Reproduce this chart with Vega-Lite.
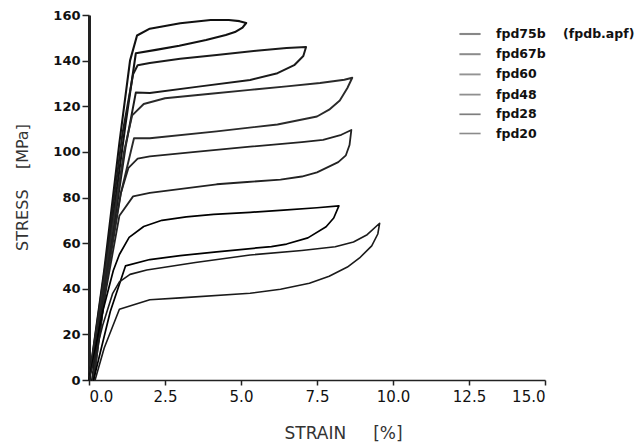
{
  "$schema": "https://vega.github.io/schema/vega-lite/v6.json",
  "width": 456,
  "height": 365,
  "autosize": {"type": "none"},
  "padding": {"left": 89, "top": 15, "right": 95, "bottom": 64},
  "background": "white",
  "config": {
    "view": {"stroke": null},
    "axis": {"grid": false, "domainColor": "#222", "tickColor": "#222", "labelColor": "#111", "titleColor": "#333"}
  },
  "data": {
    "values": [
      {"s": "fpd75b", "i": 0, "x": 0, "y": 0},
      {"s": "fpd75b", "i": 1, "x": 0.5, "y": 48},
      {"s": "fpd75b", "i": 2, "x": 1.0, "y": 104},
      {"s": "fpd75b", "i": 3, "x": 1.35, "y": 140},
      {"s": "fpd75b", "i": 4, "x": 1.58, "y": 151},
      {"s": "fpd75b", "i": 5, "x": 2.0, "y": 154},
      {"s": "fpd75b", "i": 6, "x": 3.0, "y": 156.4},
      {"s": "fpd75b", "i": 7, "x": 4.0, "y": 157.8},
      {"s": "fpd75b", "i": 8, "x": 4.6, "y": 157.8},
      {"s": "fpd75b", "i": 9, "x": 4.95, "y": 157.3},
      {"s": "fpd75b", "i": 10, "x": 5.17, "y": 156.5},
      {"s": "fpd75b", "i": 11, "x": 5.05, "y": 154.5},
      {"s": "fpd75b", "i": 12, "x": 4.8, "y": 152.5},
      {"s": "fpd75b", "i": 13, "x": 4.5, "y": 151.2},
      {"s": "fpd75b", "i": 14, "x": 3.85, "y": 149},
      {"s": "fpd75b", "i": 15, "x": 2.97, "y": 146.5},
      {"s": "fpd75b", "i": 16, "x": 2.2, "y": 144.7},
      {"s": "fpd75b", "i": 17, "x": 1.54, "y": 143.2},
      {"s": "fpd75b", "i": 18, "x": 1.2, "y": 112},
      {"s": "fpd75b", "i": 19, "x": 0.7, "y": 62},
      {"s": "fpd75b", "i": 20, "x": 0.25, "y": 15},
      {"s": "fpd75b", "i": 21, "x": 0.1, "y": 0},

      {"s": "fpd67b", "i": 0, "x": 0, "y": 0},
      {"s": "fpd67b", "i": 1, "x": 0.6, "y": 56},
      {"s": "fpd67b", "i": 2, "x": 1.1, "y": 108},
      {"s": "fpd67b", "i": 3, "x": 1.45, "y": 134},
      {"s": "fpd67b", "i": 4, "x": 1.6, "y": 138},
      {"s": "fpd67b", "i": 5, "x": 2.0, "y": 139},
      {"s": "fpd67b", "i": 6, "x": 3.0, "y": 140.8},
      {"s": "fpd67b", "i": 7, "x": 4.2, "y": 142.5},
      {"s": "fpd67b", "i": 8, "x": 5.5, "y": 144.3},
      {"s": "fpd67b", "i": 9, "x": 6.5, "y": 145.5},
      {"s": "fpd67b", "i": 10, "x": 7.14, "y": 146},
      {"s": "fpd67b", "i": 11, "x": 7.05, "y": 142},
      {"s": "fpd67b", "i": 12, "x": 6.75, "y": 138},
      {"s": "fpd67b", "i": 13, "x": 6.2, "y": 134.5},
      {"s": "fpd67b", "i": 14, "x": 5.3, "y": 131.5},
      {"s": "fpd67b", "i": 15, "x": 3.6, "y": 128.6},
      {"s": "fpd67b", "i": 16, "x": 2.0, "y": 125.8},
      {"s": "fpd67b", "i": 17, "x": 1.54, "y": 126},
      {"s": "fpd67b", "i": 18, "x": 1.2, "y": 102},
      {"s": "fpd67b", "i": 19, "x": 0.65, "y": 52},
      {"s": "fpd67b", "i": 20, "x": 0.15, "y": 0},

      {"s": "fpd60", "i": 0, "x": 0, "y": 0},
      {"s": "fpd60", "i": 1, "x": 0.6, "y": 52},
      {"s": "fpd60", "i": 2, "x": 1.15, "y": 100},
      {"s": "fpd60", "i": 3, "x": 1.42, "y": 116},
      {"s": "fpd60", "i": 4, "x": 1.8, "y": 121},
      {"s": "fpd60", "i": 5, "x": 2.5, "y": 123.5},
      {"s": "fpd60", "i": 6, "x": 4.0, "y": 125.5},
      {"s": "fpd60", "i": 7, "x": 5.3, "y": 127.2},
      {"s": "fpd60", "i": 8, "x": 6.5, "y": 128.7},
      {"s": "fpd60", "i": 9, "x": 7.6, "y": 130.2},
      {"s": "fpd60", "i": 10, "x": 8.4, "y": 131.6},
      {"s": "fpd60", "i": 11, "x": 8.66, "y": 132.5},
      {"s": "fpd60", "i": 12, "x": 8.5, "y": 128},
      {"s": "fpd60", "i": 13, "x": 8.25, "y": 122.5},
      {"s": "fpd60", "i": 14, "x": 7.9, "y": 118.5},
      {"s": "fpd60", "i": 15, "x": 7.5, "y": 115.5},
      {"s": "fpd60", "i": 16, "x": 6.2, "y": 112},
      {"s": "fpd60", "i": 17, "x": 4.2, "y": 109},
      {"s": "fpd60", "i": 18, "x": 2.0, "y": 106},
      {"s": "fpd60", "i": 19, "x": 1.48, "y": 106},
      {"s": "fpd60", "i": 20, "x": 1.05, "y": 82},
      {"s": "fpd60", "i": 21, "x": 0.6, "y": 45},
      {"s": "fpd60", "i": 22, "x": 0.15, "y": 0},

      {"s": "fpd48", "i": 0, "x": 0, "y": 0},
      {"s": "fpd48", "i": 1, "x": 0.55, "y": 45},
      {"s": "fpd48", "i": 2, "x": 1.05, "y": 82},
      {"s": "fpd48", "i": 3, "x": 1.3, "y": 93},
      {"s": "fpd48", "i": 4, "x": 1.6, "y": 97},
      {"s": "fpd48", "i": 5, "x": 2.0, "y": 98},
      {"s": "fpd48", "i": 6, "x": 3.5, "y": 100},
      {"s": "fpd48", "i": 7, "x": 5.3, "y": 102.3},
      {"s": "fpd48", "i": 8, "x": 7.0, "y": 104.3},
      {"s": "fpd48", "i": 9, "x": 7.7, "y": 105.3},
      {"s": "fpd48", "i": 10, "x": 8.3, "y": 107.5},
      {"s": "fpd48", "i": 11, "x": 8.63, "y": 109.6},
      {"s": "fpd48", "i": 12, "x": 8.57, "y": 103},
      {"s": "fpd48", "i": 13, "x": 8.45, "y": 98.5},
      {"s": "fpd48", "i": 14, "x": 8.2, "y": 95.5},
      {"s": "fpd48", "i": 15, "x": 7.5, "y": 91},
      {"s": "fpd48", "i": 16, "x": 7.0, "y": 89.2},
      {"s": "fpd48", "i": 17, "x": 6.3, "y": 87.8},
      {"s": "fpd48", "i": 18, "x": 5.2, "y": 86.8},
      {"s": "fpd48", "i": 19, "x": 4.2, "y": 85.8},
      {"s": "fpd48", "i": 20, "x": 2.0, "y": 82},
      {"s": "fpd48", "i": 21, "x": 1.45, "y": 80.5},
      {"s": "fpd48", "i": 22, "x": 1.0, "y": 72},
      {"s": "fpd48", "i": 23, "x": 0.5, "y": 35},
      {"s": "fpd48", "i": 24, "x": 0.12, "y": 0},

      {"s": "fpd28", "i": 0, "x": 0, "y": 0},
      {"s": "fpd28", "i": 1, "x": 0.45, "y": 30},
      {"s": "fpd28", "i": 2, "x": 0.8, "y": 48},
      {"s": "fpd28", "i": 3, "x": 1.0, "y": 55},
      {"s": "fpd28", "i": 4, "x": 1.32, "y": 62.5},
      {"s": "fpd28", "i": 5, "x": 1.8, "y": 67.3},
      {"s": "fpd28", "i": 6, "x": 2.4, "y": 70},
      {"s": "fpd28", "i": 7, "x": 3.2, "y": 71.5},
      {"s": "fpd28", "i": 8, "x": 4.1, "y": 72.6},
      {"s": "fpd28", "i": 9, "x": 5.3, "y": 73.5},
      {"s": "fpd28", "i": 10, "x": 6.4, "y": 74.5},
      {"s": "fpd28", "i": 11, "x": 7.5, "y": 75.5},
      {"s": "fpd28", "i": 12, "x": 8.22, "y": 76.3},
      {"s": "fpd28", "i": 13, "x": 8.05, "y": 71},
      {"s": "fpd28", "i": 14, "x": 7.8, "y": 67.2},
      {"s": "fpd28", "i": 15, "x": 7.2, "y": 62.3},
      {"s": "fpd28", "i": 16, "x": 6.5, "y": 59.6},
      {"s": "fpd28", "i": 17, "x": 6.0, "y": 58.5},
      {"s": "fpd28", "i": 18, "x": 4.2, "y": 56.2},
      {"s": "fpd28", "i": 19, "x": 3.0, "y": 54.5},
      {"s": "fpd28", "i": 20, "x": 2.0, "y": 52.8},
      {"s": "fpd28", "i": 21, "x": 1.2, "y": 50},
      {"s": "fpd28", "i": 22, "x": 0.7, "y": 30},
      {"s": "fpd28", "i": 23, "x": 0.15, "y": 0},

      {"s": "fpd20", "i": 0, "x": 0, "y": 0},
      {"s": "fpd20", "i": 1, "x": 0.45, "y": 24},
      {"s": "fpd20", "i": 2, "x": 0.78, "y": 38},
      {"s": "fpd20", "i": 3, "x": 1.0, "y": 43},
      {"s": "fpd20", "i": 4, "x": 1.35, "y": 46.3},
      {"s": "fpd20", "i": 5, "x": 1.9, "y": 48.2},
      {"s": "fpd20", "i": 6, "x": 3.5, "y": 51.5},
      {"s": "fpd20", "i": 7, "x": 5.3, "y": 54.8},
      {"s": "fpd20", "i": 8, "x": 7.0, "y": 56.8},
      {"s": "fpd20", "i": 9, "x": 8.1, "y": 58.4},
      {"s": "fpd20", "i": 10, "x": 8.7, "y": 60.5},
      {"s": "fpd20", "i": 11, "x": 9.15, "y": 63.7},
      {"s": "fpd20", "i": 12, "x": 9.56, "y": 68.7},
      {"s": "fpd20", "i": 13, "x": 9.5, "y": 64},
      {"s": "fpd20", "i": 14, "x": 9.3, "y": 58.8},
      {"s": "fpd20", "i": 15, "x": 8.9, "y": 53.5},
      {"s": "fpd20", "i": 16, "x": 8.5, "y": 49.5},
      {"s": "fpd20", "i": 17, "x": 7.9, "y": 45.5},
      {"s": "fpd20", "i": 18, "x": 7.25, "y": 42.4},
      {"s": "fpd20", "i": 19, "x": 6.3, "y": 39.8},
      {"s": "fpd20", "i": 20, "x": 5.3, "y": 38},
      {"s": "fpd20", "i": 21, "x": 3.0, "y": 36},
      {"s": "fpd20", "i": 22, "x": 2.0, "y": 35.2},
      {"s": "fpd20", "i": 23, "x": 1.0, "y": 31},
      {"s": "fpd20", "i": 24, "x": 0.5, "y": 14},
      {"s": "fpd20", "i": 25, "x": 0.2, "y": 0}
    ]
  },
  "mark": {"type": "line", "strokeCap": "round", "strokeJoin": "round", "clip": false},
  "encoding": {
    "x": {
      "field": "x", "type": "quantitative",
      "scale": {"domain": [0, 15], "nice": false},
      "axis": {
        "values": [0, 2.5, 5, 7.5, 10, 12.5, 15],
        "format": ".1f",
        "title": "STRAIN\u00a0\u00a0\u00a0\u00a0\u00a0[%]",
        "titleFont": "DejaVu Sans", "titleFontSize": 17, "titleFontWeight": "normal",
        "titleX": 254, "titleY": 58, "titleBaseline": "alphabetic", "titleAlign": "center",
        "labelFont": "DejaVu Sans", "labelFontSize": 15, "labelFontWeight": "normal",
        "labelPadding": 4, "tickSize": 5, "tickWidth": 1.5, "domainWidth": 1.5
      }
    },
    "y": {
      "field": "y", "type": "quantitative",
      "scale": {"domain": [0, 160], "nice": false},
      "axis": {
        "values": [0, 20, 40, 60, 80, 100, 120, 140, 160],
        "title": "STRESS\u00a0\u00a0\u00a0\u00a0[MPa]",
        "titleFont": "DejaVu Sans", "titleFontSize": 16, "titleFontWeight": "normal",
        "titleAngle": -90, "titleX": -67, "titleY": 172, "titleAlign": "center", "titleBaseline": "middle",
        "labelFont": "DejaVu Sans", "labelFontSize": 13, "labelFontWeight": "bold",
        "labelPadding": 2, "tickSize": 7, "tickWidth": 1.5, "domainWidth": 3
      }
    },
    "color": {
      "field": "s", "type": "nominal",
      "scale": {
        "domain": ["fpd75b", "fpd67b", "fpd60", "fpd48", "fpd28", "fpd20"],
        "range": ["#111111", "#1a1a1a", "#2a2a2a", "#222222", "#000000", "#1a1a1a"]
      },
      "legend": {
        "title": null,
        "orient": "none",
        "legendX": 369,
        "legendY": 7,
        "padding": 0,
        "symbolType": "stroke",
        "symbolSize": 450,
        "symbolStrokeWidth": 2.5,
        "symbolOpacity": 0.5,
        "labelFont": "DejaVu Sans",
        "labelFontSize": 12.5,
        "labelFontWeight": "bold",
        "labelColor": "#111",
        "labelOffset": 14,
        "labelLimit": 300,
        "rowPadding": 1.2,
        "labelExpr": "datum.label == 'fpd75b' ? 'fpd75b\u00a0\u00a0\u00a0\u00a0(fpdb.apf)' : datum.label"
      }
    },
    "strokeWidth": {
      "field": "s", "type": "nominal",
      "scale": {
        "domain": ["fpd75b", "fpd67b", "fpd60", "fpd48", "fpd28", "fpd20"],
        "range": [2.1, 1.6, 1.3, 1.5, 3.0, 1.5]
      },
      "legend": null
    },
    "order": {"field": "i", "type": "quantitative"}
  }
}
